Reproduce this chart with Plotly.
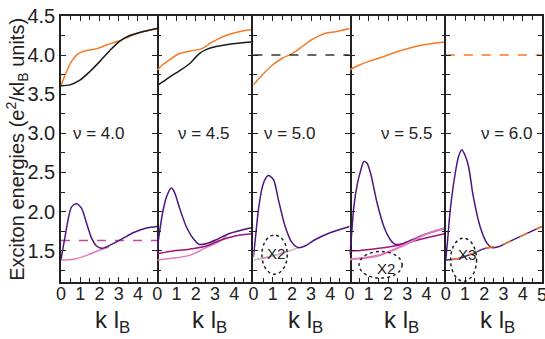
import plotly.graph_objects as go
from plotly.subplots import make_subplots

# ---------------- data ----------------
nu_labels = ["ν = 4.0", "ν = 4.5", "ν = 5.0", "ν = 5.5", "ν = 6.0"]
nu_label_x = [2.0, 2.42, 1.9, 2.98, 3.18]
nu_label_y = 3.0

# panel 1 (nu = 4.0)
k1_black = [0, 0.47, 0.98, 1.5, 2.02, 2.54, 3.06, 3.57, 4.09, 5.0]
e1_black = [3.61, 3.62, 3.68, 3.79, 3.92, 4.06, 4.18, 4.25, 4.29, 4.34]
k1_orange = [0, 0.29, 0.55, 0.9, 1.33, 1.85, 2.37, 2.88, 3.4, 4.09, 5.0]
e1_orange = [3.61, 3.79, 3.92, 4.02, 4.06, 4.08, 4.13, 4.17, 4.22, 4.29, 4.34]
k1_purple = [0, 0.21, 0.38, 0.55, 0.81, 1.07, 1.33, 1.59, 1.85, 2.1, 2.37, 2.71, 3.23, 3.75, 4.44, 5.0]
e1_purple = [1.39, 1.68, 1.91, 2.06, 2.10, 2.04, 1.85, 1.66, 1.56, 1.53, 1.55, 1.59, 1.66, 1.73, 1.79, 1.81]
k1_pink = [0, 0.64, 1.33, 2.02, 2.5]
e1_pink = [1.38, 1.39, 1.44, 1.51, 1.545]
e1_dash = 1.63

# panel 2 (nu = 4.5)
k2_orange = [0, 0.3, 0.64, 1.16, 1.68, 2.28, 2.88, 3.57, 4.26, 5.0]
e2_orange = [3.81, 3.88, 3.94, 4.02, 4.05, 4.08, 4.17, 4.25, 4.30, 4.33]
k2_black = [0, 0.3, 0.64, 1.16, 1.68, 2.19, 2.54, 3.06, 3.75, 5.0]
e2_black = [3.61, 3.66, 3.72, 3.80, 3.89, 4.02, 4.07, 4.11, 4.14, 4.17]
k2_purple = [0, 0.1, 0.31, 0.5, 0.74, 0.91, 1.17, 1.51, 1.86, 2.2, 2.55, 3.07, 3.76, 5.0]
e2_purple = [1.50, 1.70, 2.02, 2.20, 2.30, 2.24, 2.04, 1.81, 1.66, 1.58, 1.59, 1.64, 1.72, 1.80]
k2_magenta = [0, 0.65, 1.68, 2.55, 3.24, 4.1, 5.0]
e2_magenta = [1.46, 1.49, 1.52, 1.56, 1.63, 1.69, 1.72]
k2_pink = [0, 0.65, 1.68, 2.55, 3.24, 3.6]
e2_pink = [1.38, 1.40, 1.44, 1.54, 1.62, 1.69]

# panel 3 (nu = 5.0)
k3_orange = [0, 0.47, 0.98, 1.5, 2.02, 2.54, 3.06, 3.75, 4.27, 5.0]
e3_orange = [3.62, 3.75, 3.87, 3.96, 4.02, 4.11, 4.20, 4.28, 4.30, 4.34]
e3_dash = 4.0
k3_purple = [0, 0.1, 0.26, 0.45, 0.6, 0.78, 1.04, 1.3, 1.65, 1.99, 2.34, 2.68, 3.2, 3.89, 5.0]
e3_purple = [1.42, 1.65, 2.02, 2.30, 2.41, 2.46, 2.41, 2.15, 1.81, 1.61, 1.54, 1.56, 1.64, 1.72, 1.81]
k3_pink = [0, 0.78, 1.65, 2.34]
e3_pink = [1.38, 1.42, 1.48, 1.54]

# panel 4 (nu = 5.5)
k4_orange = [0, 0.48, 1.0, 1.52, 2.55, 3.59, 5.0]
e4_orange = [3.81, 3.87, 3.92, 3.96, 4.05, 4.12, 4.17]
k4_purple = [0, 0.1, 0.22, 0.4, 0.57, 0.74, 0.9, 1.09, 1.43, 1.78, 2.12, 2.38, 2.73, 3.25, 3.94, 5.0]
e4_purple = [1.45, 1.70, 2.06, 2.35, 2.52, 2.64, 2.62, 2.49, 2.11, 1.81, 1.64, 1.58, 1.59, 1.64, 1.71, 1.79]
k4_magenta = [0, 0.48, 1.52, 2.55, 3.59, 5.0]
e4_magenta = [1.50, 1.50, 1.53, 1.57, 1.64, 1.72]
k4_pink = [0, 0.48, 1.52, 2.55, 3.25, 3.94, 5.0]
e4_pink = [1.39, 1.40, 1.44, 1.54, 1.62, 1.71, 1.79]

# panel 5 (nu = 6.0)
e5_dash = 4.0
k5_purple = [0, 0.1, 0.23, 0.49, 0.66, 0.83, 1.0, 1.18, 1.43, 1.78, 2.13, 2.39, 2.73, 3.25, 3.94, 5.0]
e5_purple = [1.39, 1.65, 2.02, 2.49, 2.70, 2.79, 2.72, 2.58, 2.19, 1.81, 1.60, 1.54, 1.55, 1.61, 1.69, 1.81]
k5_low = [0, 0.66, 1.35, 2.04, 2.39]
e5_low = [1.38, 1.40, 1.46, 1.53, 1.545]
k5_orange = [0.3, 0.66, 1.35, 2.04, 2.39, 2.73, 3.25, 3.94, 5.0]
e5_orange = [1.385, 1.40, 1.46, 1.53, 1.55, 1.56, 1.61, 1.69, 1.81]

# degeneracy markers: (panel, label, x0, x1, y0, y1, text x, text y)
circles = [
    (3, "X2", 0.44, 1.76, 1.20, 1.70, 1.20, 1.47),
    (4, "X2", 0.49, 2.73, 1.15, 1.49, 1.88, 1.27),
    (5, "X3", 0.25, 1.60, 1.11, 1.66, 1.12, 1.45),
]

x_ticks = [0, 1, 2, 3, 4]
x_last_tick = 5
y_ticks = [1.5, 2.0, 2.5, 3.0, 3.5, 4.0, 4.5]

# ---------------- styles ----------------
ORANGE = "#f47a28"
BLACK = "#1a1a1a"
PURPLE = "#4b1782"
MAGENTA = "#a0157a"
PINK = "#e07ab8"
DMAG = "#c048a8"
FONT = "Liberation Sans, Arial, sans-serif"

fig = make_subplots(rows=1, cols=5, shared_yaxes=True, horizontal_spacing=0)


def line(col, x, y, color, width=1.5, dash="solid", shape="spline"):
    fig.add_trace(go.Scatter(x=x, y=y, mode="lines",
                             line=dict(color=color, width=width, dash=dash, shape=shape, smoothing=0.8),
                             showlegend=False, hoverinfo="skip"), row=1, col=col)


# panel 1
line(1, k1_orange, e1_orange, ORANGE)
line(1, k1_black, e1_black, BLACK)
line(1, [0, 5], [e1_dash, e1_dash], DMAG, dash="dash", shape="linear")
line(1, k1_pink, e1_pink, PINK)
line(1, k1_purple, e1_purple, PURPLE)
# panel 2
line(2, k2_orange, e2_orange, ORANGE)
line(2, k2_black, e2_black, BLACK)
line(2, k2_pink, e2_pink, PINK)
line(2, k2_magenta, e2_magenta, MAGENTA)
line(2, k2_purple, e2_purple, PURPLE)
# panel 3
line(3, k3_orange, e3_orange, ORANGE)
line(3, [0, 5], [e3_dash, e3_dash], "#333333", dash="dash", shape="linear")
line(3, k3_pink, e3_pink, PINK)
line(3, k3_pink, e3_pink, "#b8e0b0", width=1, dash="dash")
line(3, k3_purple, e3_purple, PURPLE)
# panel 4
line(4, k4_orange, e4_orange, ORANGE)
line(4, k4_purple, e4_purple, PURPLE)
line(4, k4_magenta, e4_magenta, MAGENTA)
line(4, k4_pink, e4_pink, PINK, width=2.2)
# panel 5
line(5, [0, 5], [e5_dash, e5_dash], ORANGE, dash="dash", shape="linear")
line(5, k5_purple, e5_purple, PURPLE)
line(5, k5_low, e5_low, PURPLE)
line(5, k5_orange, e5_orange, ORANGE, dash="dash")

tick_style = dict(ticks="inside", ticklen=5, tickwidth=1, tickcolor="#222222",
                  showgrid=False, zeroline=False)

for i in range(1, 6):
    xa = "xaxis" if i == 1 else f"xaxis{i}"
    ya = "yaxis" if i == 1 else f"yaxis{i}"
    fig.layout[xa].update(range=[0, 5], tickmode="array", tickvals=x_ticks,
                          ticktext=[str(v) for v in x_ticks],
                          showline=True, linecolor="#222222", linewidth=1.5, mirror="allticks",
                          ticklabelstandoff=-5,
                          tickfont=dict(family=FONT, size=18, color="#222"),
                          minor=dict(tickmode="array", tickvals=[0.5, 1.5, 2.5, 3.5, 4.5],
                                     ticks="inside", ticklen=4, tickcolor="#222222"),
                          **tick_style)
    fig.layout[ya].update(range=[1.1, 4.5], tickmode="array", tickvals=y_ticks,
                          ticktext=[f"{v:.1f}" for v in y_ticks],
                          showticklabels=(i == 1),
                          showline=(i in (1, 3, 5)), linecolor="#222222", linewidth=1.5,
                          mirror="allticks",
                          tickfont=dict(family=FONT, size=20, color="#222"),
                          minor=dict(tickmode="array", tickvals=[1.25, 1.75, 2.25, 2.75, 3.25, 3.75, 4.25],
                                     ticks="inside", ticklen=4, tickcolor="#222222"),
                          **tick_style)

annotations = []
for i in range(5):
    xr = "x" if i == 0 else f"x{i+1}"
    annotations.append(dict(x=nu_label_x[i], y=nu_label_y, xref=xr, yref="y",
                            text=nu_labels[i], showarrow=False,
                            font=dict(family=FONT, size=17, color="#222")))
    annotations.append(dict(x=0.54, y=-0.15, xref=f"{xr} domain", yref="paper",
                            text="k l<sub>B</sub>", showarrow=False,
                            xanchor="center", yanchor="middle",
                            font=dict(family=FONT, size=24, color="#222")))

# last tick label of the final panel (sits on the right edge)
annotations.append(dict(x=x_last_tick, y=-0.05, xref="x5", yref="paper", text=str(x_last_tick),
                        showarrow=False, xanchor="center", yanchor="middle",
                        font=dict(family=FONT, size=18, color="#222")))

shapes = []
for (p, lab, x0, x1, y0, y1, tx, ty) in circles:
    xr = "x" if p == 1 else f"x{p}"
    shapes.append(dict(type="circle", xref=xr, yref="y", x0=x0, x1=x1, y0=y0, y1=y1,
                       line=dict(color="#222", width=1.5, dash="dot")))
    annotations.append(dict(x=tx, y=ty, xref=xr, yref="y", text=lab, showarrow=False,
                            font=dict(family=FONT, size=15, color="#222")))

annotations.append(dict(x=-0.092, y=0.5, xref="paper", yref="paper",
                        text="Exciton energies (e<sup>2</sup>/κl<sub>B</sub> units)",
                        textangle=-90, showarrow=False, xanchor="center", yanchor="middle",
                        font=dict(family=FONT, size=20, color="#222")))

fig.update_layout(width=545, height=339, margin=dict(l=61, r=1, t=16, b=57),
                  paper_bgcolor="white", plot_bgcolor="white",
                  annotations=annotations, shapes=shapes)

fig.write_html("out.html")
